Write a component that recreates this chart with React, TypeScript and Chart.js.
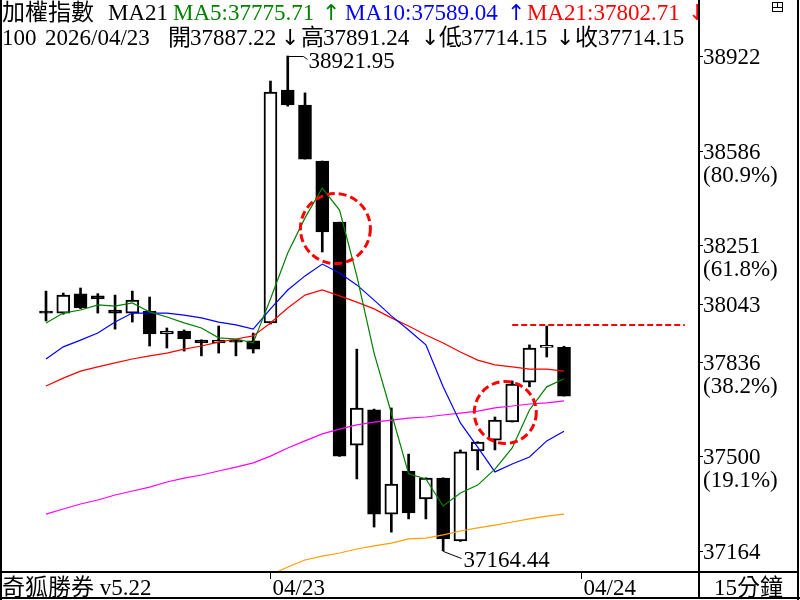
import React, { useEffect, useRef } from 'react';
import { Chart, registerables } from 'chart.js';

Chart.register(...registerables);

// ---------- data ----------
const opens = [38016, 38009, 38077, 38070, 38020, 38009, 38016, 37935, 37945, 37913, 37903, 37913, 37910, 37974, 38801, 38748, 38549, 38332, 37540, 37665, 37295, 37448, 37349, 37423, 37200, 37519, 37558, 37622, 37764, 37887, 37887.22];
const highs = [38087, 38080, 38098, 38078, 38073, 38087, 38066, 37956, 37949, 37914, 37963, 37914, 37938, 38833, 38921.95, 38791, 38549, 38332, 37881, 37668, 37672, 37508, 37424, 37424, 37523, 37552, 37640, 37768, 37896, 37963, 37891.24];
const lows = [37981, 38005, 38025, 38009, 37952, 37977, 37892, 37885, 37874, 37857, 37867, 37857, 37867, 37970, 38744, 38556, 38226, 37500, 37420, 37249, 37231, 37278, 37278, 37164.44, 37198, 37452, 37523, 37622, 37747, 37853, 37714.15];
const closes = [38009, 38073, 38027, 38059, 38009, 38055, 37935, 37945, 37917, 37903, 37913, 37906, 37881, 38794, 38748, 38556, 38297, 37501, 37672, 37295, 37402, 37299, 37423, 37207, 37516, 37551, 37629, 37757, 37885, 37889, 37714.15];

const ma5 = [37974, 38009, 38020, 38038, 38034, 38045, 38013, 37995, 37974, 37956, 37921, 37917, 37903, 38059, 38222, 38347, 38453, 38375, 38141, 37867, 37654, 37438, 37420, 37324, 37370, 37398, 37455, 37530, 37665, 37747, 37775.71];
const ma10 = [37846, 37889, 37913, 37938, 37977, 38009, 38009, 38009, 38002, 37992, 37977, 37967, 37952, 38024, 38091, 38141, 38183, 38151, 38109, 38055, 37999, 37949, 37896, 37747, 37619, 37533, 37445, 37473, 37498, 37555, 37589.04];
const ma21 = [37750, 37778, 37803, 37818, 37832, 37846, 37857, 37867, 37881, 37892, 37906, 37917, 37928, 37974, 38027, 38073, 38091, 38070, 38048, 38024, 37992, 37963, 37931, 37903, 37871, 37842, 37825, 37818, 37810, 37810, 37802.71];
const maPink = [37295, 37313, 37331, 37345, 37363, 37377, 37391, 37409, 37423, 37434, 37448, 37462, 37477, 37501, 37530, 37555, 37580, 37597, 37612, 37622, 37629, 37636, 37640, 37647, 37654, 37661, 37672, 37679, 37686, 37690, 37697];
const orangeStart = 13;
const maOrange = [37079, 37107, 37132, 37146, 37157, 37171, 37182, 37192, 37207, 37210, 37221, 37235, 37246, 37256, 37267, 37278, 37288, 37295];

const axisTicks = [38922, 38586, 38251, 38043, 37836, 37500, 37164];
const axisPct = ['', '(80.9%)', '(61.8%)', '', '(38.2%)', '(19.1%)', ''];

const dateLabels = ['04/23', '04/24'];
const dateIndex = [13, 31];

const circleCenters = [
  { i: 16.76, v: 38309 },
  { i: 26.6, v: 37656 },
];
const circleRadii = [35, 31];
const dashLineValue = 37966;
const dashLineFrom = 27;
const dashLineTo = 37;

const title = '加權指數';
const headDate = '2026/04/23';
const headCount = '100';
const brand = '奇狐勝券 v5.22';
const period = '15分鐘';

// ---------- styles ----------
const GREEN = '#008000';
const BLUE = '#0000ff';
const RED = '#ff0000';
const PINK = '#ff00ff';
const ORANGE = '#ffa000';
const FONT = "23px 'Liberation Serif', 'DejaVu Serif', 'Noto Sans CJK TC', serif";
const ARROW_FONT = "22px 'DejaVu Sans', sans-serif";

const X_MIN = -46 / 17.267;
const X_MAX = (699 - 46) / 17.267;
const Y_MAX = 38922 + 56 * 3.5515;
const Y_MIN = 38922 - (572 - 56) * 3.5515;

const fmt = (v: number) => v.toFixed(2);
const isArrow = (s: string) => s === '↑' || s === '↓';

const overlay = {
  id: 'overlay',
  beforeDraw(chart: any) {
    const ctx = chart.ctx;
    ctx.save();
    ctx.fillStyle = '#fff';
    ctx.fillRect(0, 0, chart.width, chart.height);
    ctx.restore();
  },
  afterDraw(chart: any) {
    const ctx: CanvasRenderingContext2D = chart.ctx;
    const xs = chart.scales.x;
    const ys = chart.scales.y;
    ctx.save();

    // dashed circles
    ctx.strokeStyle = RED;
    ctx.lineWidth = 3;
    ctx.setLineDash([8, 4]);
    circleCenters.forEach((c, k) => {
      const cx = xs.getPixelForValue(c.i);
      const cy = ys.getPixelForValue(c.v);
      ctx.beginPath();
      ctx.arc(cx, cy, circleRadii[k], 0, Math.PI * 2);
      ctx.stroke();
    });
    // dashed horizontal line
    ctx.lineWidth = 2;
    ctx.setLineDash([6, 3]);
    const dy = Math.round(ys.getPixelForValue(dashLineValue));
    ctx.beginPath();
    ctx.moveTo(xs.getPixelForValue(dashLineFrom), dy);
    ctx.lineTo(xs.getPixelForValue(dashLineTo), dy);
    ctx.stroke();
    ctx.setLineDash([]);

    ctx.font = FONT;
    ctx.textBaseline = 'alphabetic';

    // high / low labels
    let hi = 0, lo = 0;
    highs.forEach((h, i) => { if (h > highs[hi]) hi = i; });
    lows.forEach((l, i) => { if (l < lows[lo]) lo = i; });
    ctx.strokeStyle = '#000';
    ctx.lineWidth = 1;
    const hx = Math.round(xs.getPixelForValue(hi)) + 0.5;
    const hy = Math.round(ys.getPixelForValue(highs[hi])) + 0.5;
    ctx.beginPath();
    ctx.moveTo(hx, hy);
    ctx.lineTo(hx + 15, hy);
    ctx.lineTo(hx + 19, hy + 3);
    ctx.stroke();
    ctx.fillStyle = '#000';
    ctx.fillText(fmt(highs[hi]), hx + 20, hy + 11.5);

    const lx = Math.round(xs.getPixelForValue(lo)) + 0.5;
    const ly = Math.round(ys.getPixelForValue(lows[lo])) + 0.5;
    ctx.beginPath();
    ctx.moveTo(lx, ly - 14);
    ctx.lineTo(lx, ly);
    ctx.lineTo(lx + 18, ly + 7);
    ctx.stroke();
    ctx.fillText(fmt(lows[lo]), lx + 20, ly + 15);

    // header
    const n = closes.length - 1;
    const put = (s: string, x: number, y: number, c: string) => {
      ctx.fillStyle = c;
      ctx.font = isArrow(s) ? ARROW_FONT : FONT;
      ctx.fillText(s, x, y);
      ctx.font = FONT;
    };
    const row1: [string, number, string][] = [
      [title, 2, '#000'],
      ['MA21', 108, '#000'],
      ['MA5:' + fmt(ma5[n]), 173, GREEN],
      ['↑', 322, GREEN],
      ['MA10:' + fmt(ma10[n]), 345, BLUE],
      ['↑', 507, BLUE],
      ['MA21:' + fmt(ma21[n]), 527, RED],
      ['↓', 688, RED],
    ];
    row1.forEach(([s, x, c]) => put(s, x, 19.5, c));
    const row2: [string, number][] = [
      [headCount, 2],
      [headDate, 45],
      ['開', 168],
      [fmt(opens[n]), 190],
      ['↓', 281],
      ['高', 301],
      [fmt(highs[n]), 323],
      ['↓', 421],
      ['低', 439],
      [fmt(lows[n]), 461],
      ['↓', 556],
      ['收', 575],
      [fmt(closes[n]), 598],
    ];
    row2.forEach(([s, x]) => put(s, x, 44.5, '#000'));

    // right axis
    ctx.fillStyle = '#fff';
    ctx.fillRect(700, 0, 100, 572);
    ctx.fillStyle = '#000';
    ctx.strokeStyle = '#000';
    ctx.lineWidth = 1;
    axisTicks.forEach((t, k) => {
      const y = Math.round(ys.getPixelForValue(t)) + 0.5;
      ctx.beginPath();
      ctx.moveTo(699, y);
      ctx.lineTo(703, y);
      ctx.stroke();
      ctx.fillText(String(t), 703, y + 7.5);
      if (axisPct[k]) ctx.fillText(axisPct[k], 703, y + 30);
    });

    // bottom strip
    ctx.fillStyle = '#fff';
    ctx.fillRect(0, 573, 800, 27);
    ctx.fillStyle = '#000';
    ctx.fillText(brand, 2, 595);
    dateLabels.forEach((d, k) => {
      const x = Math.round(xs.getPixelForValue(dateIndex[k])) + 0.5;
      ctx.beginPath();
      ctx.moveTo(x, 573);
      ctx.lineTo(x, 579);
      ctx.stroke();
      ctx.fillText(d, x + 2, 595);
    });
    ctx.fillText(period, 714, 595);

    // frame
    ctx.fillStyle = '#000';
    ctx.fillRect(0, 0, 2, 600);
    ctx.fillRect(797, 0, 2, 600);
    ctx.fillRect(0, 597, 800, 2);
    ctx.fillRect(0, 571, 799, 2);
    ctx.fillRect(698, 0, 2, 598);

    // small icon top-right
    ctx.lineWidth = 1;
    ctx.strokeRect(772.5, 2.5, 10, 9);
    ctx.beginPath();
    ctx.moveTo(772.5, 7.5);
    ctx.lineTo(782.5, 7.5);
    ctx.moveTo(777.5, 2.5);
    ctx.lineTo(777.5, 7.5);
    ctx.stroke();

    ctx.restore();
  },
};

export default function App() {
  const ref = useRef<HTMLCanvasElement>(null);
  useEffect(() => {
    document.body.style.margin = '0';
    const idx = closes.map((_, i) => i);
    const line = (vals: number[], color: string, start = 0) => ({
      type: 'line' as const,
      data: vals.map((v, k) => ({ x: start + k, y: v })),
      borderColor: color,
      borderWidth: 1.2,
      pointRadius: 0,
      tension: 0,
      order: 0,
    });
    const chart = new Chart(ref.current as HTMLCanvasElement, {
      type: 'bar',
      data: {
        datasets: [
          line(ma5, GREEN),
          line(ma10, BLUE),
          line(ma21, RED),
          line(maPink, PINK),
          line(maOrange, ORANGE, orangeStart),
          {
            type: 'bar',
            data: idx.map((i) => ({ x: i, y: [opens[i], closes[i]] })) as any,
            backgroundColor: idx.map((i) => (closes[i] >= opens[i] ? '#ffffff' : '#000000')),
            borderColor: '#000',
            borderWidth: 2,
            borderSkipped: false,
            barThickness: 13,
            minBarLength: 2,
            grouped: false,
            order: 1,
          } as any,
          {
            type: 'bar',
            data: idx.map((i) => ({ x: i, y: [lows[i], highs[i]] })) as any,
            backgroundColor: '#000',
            borderWidth: 0,
            barThickness: 2,
            grouped: false,
            order: 2,
          } as any,
        ],
      },
      options: {
        animation: false,
        responsive: false,
        devicePixelRatio: 1,
        events: [],
        layout: { padding: { left: 0, top: 0, right: 101, bottom: 28 } },
        plugins: { legend: { display: false }, tooltip: { enabled: false } },
        scales: {
          x: { type: 'linear', min: X_MIN, max: X_MAX, display: false, offset: false },
          y: { type: 'linear', min: Y_MIN, max: Y_MAX, display: false },
        },
      } as any,
      plugins: [overlay],
    });
    return () => chart.destroy();
  }, []);
  return <canvas ref={ref} width={800} height={600} style={{ display: 'block', width: 800, height: 600 }} />;
}
